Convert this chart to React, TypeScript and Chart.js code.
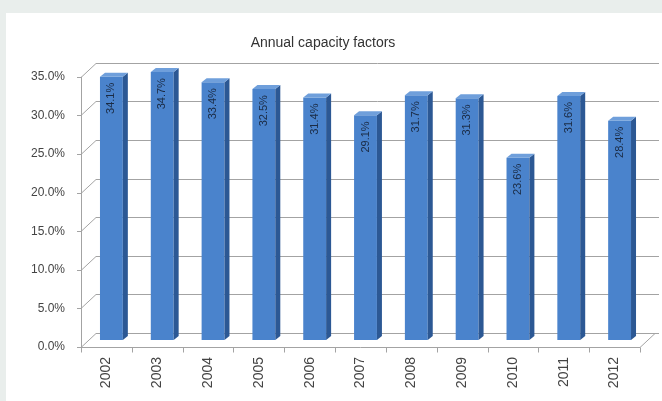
import React, { useEffect, useRef } from 'react';
import { Chart, registerables } from 'chart.js';

Chart.register(...registerables);

const chartTitle = 'Annual capacity factors';
const categories = ['2002', '2003', '2004', '2005', '2006', '2007', '2008', '2009', '2010', '2011', '2012'];
const capacityFactors = [34.1, 34.7, 33.4, 32.5, 31.4, 29.1, 31.7, 31.3, 23.6, 31.6, 28.4];
const yTickValues = [0, 5, 10, 15, 20, 25, 30, 35];

const FONT = '"Liberation Sans", Arial, sans-serif';
const DEPTH_X = 15;
const DEPTH_Y = 14;
const BAR_SHIFT_X = 5;
const BAR_SHIFT_Y = -7;
const SIDE_X = 5;
const SIDE_Y = 4;

const depthPlugin = {
  id: 'depth3d',
  beforeDatasetsDraw(chart: any) {
    const { ctx, chartArea, scales } = chart;
    const { left, right, top, bottom } = chartArea;
    const y = scales.y;
    ctx.save();
    ctx.strokeStyle = '#a3a3a3';
    ctx.lineWidth = 1;
    ctx.beginPath();
    // gridlines on back wall with slanted connector on left side wall
    yTickValues.forEach((v) => {
      const py = Math.round(y.getPixelForValue(v)) + 0.5;
      ctx.moveTo(left - 4, py);
      ctx.lineTo(left, py);
      ctx.lineTo(left + DEPTH_X, py - DEPTH_Y);
      ctx.lineTo(right + DEPTH_X + 4, py - DEPTH_Y);
    });
    // front left vertical
    ctx.moveTo(left + 0.5, top);
    ctx.lineTo(left + 0.5, bottom);
    // floor front edge and right edge
    const fb = Math.round(bottom) + 0.5;
    ctx.moveTo(left, fb);
    ctx.lineTo(right, fb);
    ctx.lineTo(right + DEPTH_X, fb - DEPTH_Y);
    // category ticks
    const n = categories.length;
    for (let i = 0; i <= n; i++) {
      const px = Math.round(left + ((right - left) * i) / n) + 0.5;
      ctx.moveTo(px, fb);
      ctx.lineTo(px, fb + 5);
    }
    ctx.stroke();
    ctx.restore();

    ctx.save();
    ctx.translate(BAR_SHIFT_X, BAR_SHIFT_Y);
  },
  afterDatasetsDraw(chart: any) {
    const { ctx } = chart;
    const meta = chart.getDatasetMeta(0);
    meta.data.forEach((bar: any, i: number) => {
      const { x, y, base, width } = bar.getProps(['x', 'y', 'base', 'width'], true);
      const l = x - width / 2;
      const r = x + width / 2;
      // side face
      ctx.fillStyle = '#2c5894';
      ctx.beginPath();
      ctx.moveTo(r, y);
      ctx.lineTo(r + SIDE_X, y - SIDE_Y);
      ctx.lineTo(r + SIDE_X, base - SIDE_Y);
      ctx.lineTo(r, base);
      ctx.closePath();
      ctx.fill();
      // top face
      ctx.fillStyle = '#6f9fdb';
      ctx.beginPath();
      ctx.moveTo(l, y);
      ctx.lineTo(l + SIDE_X, y - SIDE_Y);
      ctx.lineTo(r + SIDE_X, y - SIDE_Y);
      ctx.lineTo(r, y);
      ctx.closePath();
      ctx.fill();
      // value label, rotated
      ctx.save();
      ctx.translate(x, y + 6);
      ctx.rotate(-Math.PI / 2);
      ctx.fillStyle = '#1b2b44';
      ctx.font = `11px ${FONT}`;
      ctx.textAlign = 'right';
      ctx.textBaseline = 'middle';
      ctx.fillText(capacityFactors[i].toFixed(1) + '%', 0, 0);
      ctx.restore();
    });
    ctx.restore();
  },
};

export default function App() {
  const canvasRef = useRef<HTMLCanvasElement>(null);

  useEffect(() => {
    if (!canvasRef.current) return;
    const chart = new Chart(canvasRef.current, {
      type: 'bar',
      data: {
        labels: categories,
        datasets: [
          {
            label: chartTitle,
            data: capacityFactors,
            backgroundColor: '#4a83cc',
            borderWidth: 0,
            categoryPercentage: 1,
            barPercentage: 0.45,
            clip: false as any,
          },
        ],
      },
      options: {
        animation: false,
        responsive: false,
        maintainAspectRatio: false,
        layout: { padding: { left: 0, right: 22, top: 0, bottom: 0 } },
        plugins: {
          legend: { display: false },
          tooltip: { enabled: false },
          title: {
            display: true,
            text: chartTitle,
            color: '#333333',
            font: { family: FONT, size: 14, weight: 'normal' },
            padding: { top: 22, bottom: 25 },
          },
        },
        scales: {
          x: {
            grid: { display: false, drawTicks: false },
            border: { display: false },
            ticks: {
              color: '#444444',
              font: { family: FONT, size: 14 },
              minRotation: 90,
              maxRotation: 90,
              padding: 10,
            },
            afterFit: (scale: any) => {
              scale.height = 54;
            },
          },
          y: {
            min: 0,
            max: 35,
            grid: { display: false, drawTicks: false },
            border: { display: false },
            afterBuildTicks: (scale: any) => {
              scale.ticks = yTickValues.map((v) => ({ value: v }));
            },
            ticks: {
              color: '#444444',
              font: { family: FONT, size: 12 },
              padding: 16,
              callback: (v: any) => Number(v).toFixed(1) + '%',
            },
            afterFit: (scale: any) => {
              scale.width = 75;
            },
          },
        },
      },
      plugins: [depthPlugin],
    });
    return () => chart.destroy();
  }, []);

  return (
    <div
      style={{
        position: 'fixed',
        left: 0,
        top: 0,
        width: 662,
        height: 401,
        background: '#e9eeec',
        overflow: 'hidden',
      }}
    >
      <div
        style={{
          position: 'absolute',
          left: 6,
          top: 13,
          width: 656,
          height: 388,
          background: '#ffffff',
        }}
      >
        <canvas ref={canvasRef} width={656} height={388} style={{ display: 'block', width: 656, height: 388 }} />
      </div>
    </div>
  );
}
